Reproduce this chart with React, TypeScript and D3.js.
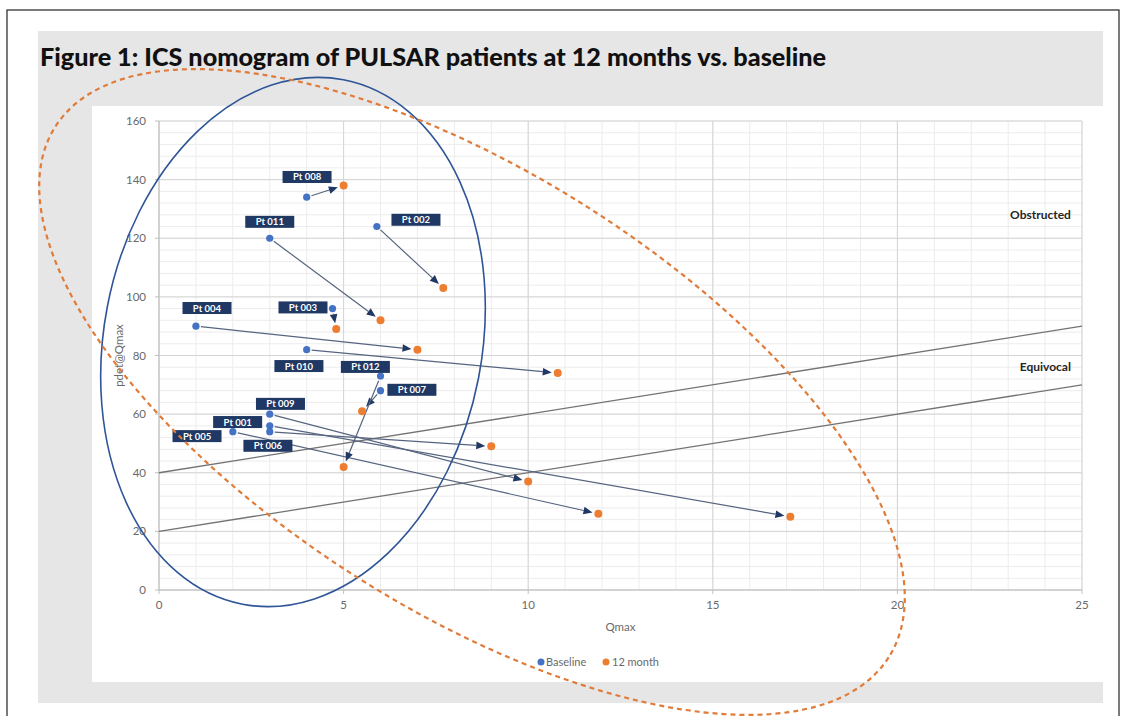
import React from 'react';
import * as d3 from 'd3';

const width = 1126;
const height = 716;

// ICS nomogram data (Qmax ml/s, pdet@Qmax cmH2O)
const patients = ['Pt 001', 'Pt 002', 'Pt 003', 'Pt 004', 'Pt 005', 'Pt 006', 'Pt 007', 'Pt 008', 'Pt 009', 'Pt 010', 'Pt 011', 'Pt 012'];
const baselineQ = [2, 5.9, 4.7, 1, 3, 3, 6, 4, 3, 4, 3, 6];
const baselineP = [54, 124, 96, 90, 56, 54, 68, 134, 60, 82, 120, 73];
const monthQ = [11.9, 7.7, 4.8, 7, 17.1, 9, 5.5, 5, 10, 10.8, 6, 5];
const monthP = [26, 103, 89, 82, 25, 49, 61, 138, 37, 74, 92, 42];

// where each patient label sits (data units)
const labelQ = [2.13, 6.96, 3.9, 1.3, 1.03, 2.95, 6.85, 4.01, 3.29, 3.79, 3.0, 5.59];
const labelP = [57.3, 126.3, 96.4, 96.2, 52.5, 49.2, 68.3, 140.9, 63.5, 76.4, 125.6, 76.1];

// nomogram boundaries: pdet = intercept + 2 * Qmax
const boundaryIntercepts = [40, 20];
const boundarySlope = 2;
const zoneNames = ['Obstructed', 'Equivocal'];
const zoneP = [128, 76];

const xTicks = [0, 5, 10, 15, 20, 25];
const yTicks = [0, 20, 40, 60, 80, 100, 120, 140, 160];

const BLUE = '#4472c4';
const ORANGE = '#ed7d31';
const NAVY = '#1f3864';
const font = 'Lato, "Open Sans", sans-serif';

const App = () => {
  const x = d3.scaleLinear().domain([0, 25]).range([159, 1082]);
  const y = d3.scaleLinear().domain([0, 160]).range([590, 121]);

  const minorX = d3.range(0, 26, 1);
  const minorY = d3.range(0, 161, 4);

  const line = d3.line<[number, number]>().x(d => x(d[0])).y(d => y(d[1]));

  // arrow from baseline to 12 month, stopping short of the orange dot
  const arrows = patients.map((p, i) => {
    const x0 = x(baselineQ[i]), y0 = y(baselineP[i]);
    const x1 = x(monthQ[i]), y1 = y(monthP[i]);
    const len = Math.hypot(x1 - x0, y1 - y0);
    const ux = (x1 - x0) / len, uy = (y1 - y0) / len;
    const sx = x0 + ux * 5, sy = y0 + uy * 5;
    const tx = x1 - ux * 6, ty = y1 - uy * 6;
    const bx = tx - ux * 9, by = ty - uy * 9;
    const head = [
      [tx, ty],
      [bx - uy * 3.8, by + ux * 3.8],
      [bx + uy * 3.8, by - ux * 3.8]
    ];
    return { key: p, sx, sy, bx, by, head };
  });

  return (
    <svg width={width} height={height} style={{ position: 'absolute', left: 0, top: 0, background: '#fff' }}>
      <rect x={7} y={10} width={1112} height={720} fill="#fff" stroke="#222" strokeWidth={1.2} />
      <rect x={38} y={31} width={1065} height={672} fill="#e6e6e6" />
      <rect x={92} y={106} width={1011} height={576} fill="#fff" />

      <text x={40} y={66} fontFamily={font} fontWeight={900} fontSize={24} fill="#111"
        textLength={786} lengthAdjust="spacingAndGlyphs">
        Figure 1: ICS nomogram of PULSAR patients at 12 months vs. baseline
      </text>

      {/* grid */}
      <g>
        {minorX.map(v => (
          <line key={'mx' + v} x1={x(v)} x2={x(v)} y1={y(0)} y2={y(160)} stroke="#ececec" />
        ))}
        {minorY.map(v => (
          <line key={'my' + v} x1={x(0)} x2={x(25)} y1={y(v)} y2={y(v)} stroke="#ececec" />
        ))}
        {xTicks.map(v => (
          <line key={'gx' + v} x1={x(v)} x2={x(v)} y1={y(0)} y2={y(160)} stroke="#d4d4d4" />
        ))}
        {yTicks.map(v => (
          <line key={'gy' + v} x1={x(0)} x2={x(25)} y1={y(v)} y2={y(v)} stroke="#d4d4d4" />
        ))}
        <line x1={x(0)} x2={x(25)} y1={y(0)} y2={y(0)} stroke="#bfbfbf" />
        <line x1={x(0)} x2={x(0)} y1={y(0)} y2={y(160)} stroke="#bfbfbf" />
        {yTicks.map(v => (
          <line key={'ty' + v} x1={x(0) - 4} x2={x(0)} y1={y(v)} y2={y(v)} stroke="#bfbfbf" />
        ))}
        {xTicks.map(v => (
          <line key={'tx' + v} x1={x(v)} x2={x(v)} y1={y(0)} y2={y(0) + 4} stroke="#bfbfbf" />
        ))}
      </g>

      {/* tick labels */}
      {yTicks.map(v => (
        <text key={'ly' + v} x={x(0) - 13} y={y(v) + 4} textAnchor="end" fontFamily={font} fontSize={11.5} fill="#6a6a6a">{v}</text>
      ))}
      {xTicks.map(v => (
        <text key={'lx' + v} x={x(v)} y={y(0) + 19} textAnchor="middle" fontFamily={font} fontSize={11.5} fill="#6a6a6a">{v}</text>
      ))}
      <text x={x(12.5)} y={631} textAnchor="middle" fontFamily={font} fontSize={11.5} fill="#6a6a6a">Qmax</text>
      <text transform={`translate(123, ${y(80)}) rotate(-90)`} textAnchor="middle" fontFamily={font} fontSize={11.5} fill="#6a6a6a">pdet@Qmax</text>

      {/* nomogram boundaries */}
      {boundaryIntercepts.map(b => (
        <path key={'b' + b} d={line([[0, b], [25, b + boundarySlope * 25]]) || ''} fill="none" stroke="#737373" strokeWidth={1.3} />
      ))}
      {zoneNames.map((z, i) => (
        <text key={z} x={x(24.7)} y={y(zoneP[i]) + 4} textAnchor="end" fontFamily={font} fontWeight={700} fontSize={12} fill="#262626">{z}</text>
      ))}

      {/* arrows */}
      {arrows.map(a => (
        <g key={a.key}>
          <line x1={a.sx} y1={a.sy} x2={a.bx} y2={a.by} stroke="#56647f" strokeWidth={1.2} />
          <polygon points={a.head.map(p => p.join(',')).join(' ')} fill={NAVY} />
        </g>
      ))}

      {/* points */}
      {baselineQ.map((q, i) => (
        <circle key={'b' + i} cx={x(q)} cy={y(baselineP[i])} r={3.6} fill={BLUE} />
      ))}
      {monthQ.map((q, i) => (
        <circle key={'m' + i} cx={x(q)} cy={y(monthP[i])} r={4} fill={ORANGE} />
      ))}

      {/* patient labels */}
      {patients.map((p, i) => (
        <g key={'l' + p} transform={`translate(${x(labelQ[i])}, ${y(labelP[i])})`}>
          <rect x={-24.5} y={-6} width={49} height={12} fill={NAVY} />
          <text x={0} y={3.5} textAnchor="middle" fontFamily={font} fontSize={9.5} fontWeight={700} fill="#fff">{p}</text>
        </g>
      ))}

      {/* legend */}
      <circle cx={541} cy={662} r={3.5} fill={BLUE} />
      <text x={546} y={666} fontFamily={font} fontSize={11} fill="#6a6a6a">Baseline</text>
      <circle cx={606} cy={662} r={3.5} fill={ORANGE} />
      <text x={612} y={666} fontFamily={font} fontSize={11} fill="#6a6a6a">12 month</text>

      {/* hand-drawn highlight ellipses */}
      <ellipse cx={293} cy={342} rx={189} ry={267} transform="rotate(10.9 293 342)" fill="none" stroke="#2f5597" strokeWidth={1.6} />
      <ellipse cx={472} cy={392} rx={494} ry={218} transform="rotate(32.5 472 392)" fill="none" stroke="#e07b39" strokeWidth={2.2} strokeDasharray="5 4" />
    </svg>
  );
};

export default App;
